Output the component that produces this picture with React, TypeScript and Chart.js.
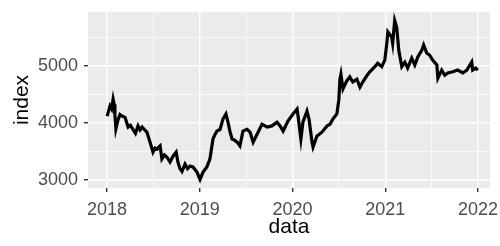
import React, { useEffect, useRef } from "react";
import { Chart, registerables } from "chart.js";

Chart.register(...registerables);

const dates: string[] = [
  "2018-01-02","2018-01-05","2018-01-13","2018-01-19","2018-01-25","2018-01-29","2018-02-01","2018-02-05",
  "2018-02-13","2018-02-21","2018-03-03","2018-03-13","2018-03-25","2018-04-03","2018-04-13","2018-04-23",
  "2018-05-03","2018-05-11","2018-05-19","2018-05-29","2018-06-07","2018-06-19","2018-07-01","2018-07-09",
  "2018-07-17","2018-07-29","2018-08-05","2018-08-15","2018-08-25","2018-09-06","2018-09-18","2018-09-30",
  "2018-10-07","2018-10-15","2018-10-23","2018-11-04","2018-11-14","2018-11-24","2018-12-05","2018-12-21",
  "2019-01-02","2019-01-14","2019-01-29","2019-02-10","2019-02-22","2019-03-02","2019-03-10","2019-03-22",
  "2019-04-02","2019-04-14","2019-04-22","2019-04-30","2019-05-08","2019-05-18","2019-05-28","2019-06-08",
  "2019-06-20","2019-07-06","2019-07-18","2019-07-30","2019-08-14","2019-09-03","2019-09-23","2019-10-12",
  "2019-11-01","2019-11-13","2019-11-25","2019-12-14","2020-01-03","2020-01-19","2020-01-23","2020-02-03",
  "2020-02-11","2020-02-27","2020-03-06","2020-03-18","2020-03-22","2020-04-06","2020-04-26","2020-05-16",
  "2020-05-28","2020-06-08","2020-06-24","2020-07-02","2020-07-06","2020-07-10","2020-07-18","2020-08-02",
  "2020-08-14","2020-08-26","2020-09-11","2020-09-23","2020-10-04","2020-10-20","2020-11-01","2020-11-21",
  "2020-12-02","2020-12-18","2020-12-30","2021-01-07","2021-01-11","2021-01-26","2021-01-30","2021-02-07",
  "2021-02-15","2021-02-23","2021-03-07","2021-03-19","2021-03-30","2021-04-15","2021-04-27","2021-05-09",
  "2021-05-25","2021-06-01","2021-06-13","2021-06-25","2021-07-07","2021-07-23","2021-07-27","2021-08-11",
  "2021-08-23","2021-09-04","2021-09-24","2021-10-13","2021-11-02","2021-11-18","2021-12-07","2021-12-11",
  "2021-12-23","2021-12-31"
];

const values: number[] = [
  4120,4180,4300,4250,4420,4330,4150,3900,
  4050,4150,4120,4100,3930,3960,3890,3820,
  3950,3880,3930,3880,3840,3670,3490,3560,
  3545,3600,3370,3440,3400,3315,3420,3490,
  3315,3200,3150,3280,3200,3245,3230,3140,
  3010,3140,3230,3370,3720,3800,3860,3890,
  4070,4160,4015,3850,3720,3700,3665,3600,
  3860,3890,3840,3665,3800,3980,3930,3950,
  4015,3950,3860,4035,4160,4245,4120,3720,
  4015,4210,4070,3665,3580,3770,3840,3950,
  3980,4070,4160,4420,4770,4860,4600,4740,
  4810,4720,4770,4630,4720,4830,4900,4990,
  5050,4990,5100,5400,5600,5510,5400,5800,
  5680,5280,4990,5070,4965,5140,5020,5160,
  5280,5370,5230,5190,5100,5020,4790,4930,
  4840,4880,4900,4930,4880,4930,5070,4930,
  4965,4930
];

const xTicks: number[] = [2018, 2018.5, 2019, 2019.5, 2020, 2020.5, 2021, 2021.5, 2022];
const yTicks: number[] = [3000, 3500, 4000, 4500, 5000, 5500];

function toYear(s: string): number {
  const [y, m, d] = s.split("-").map(Number);
  const start = Date.UTC(y, 0, 1);
  const len = Date.UTC(y + 1, 0, 1) - start;
  return y + (Date.UTC(y, m - 1, d) - start) / len;
}

const FONT = "'Liberation Sans', Arial, sans-serif";

const panelBg = {
  id: "panelBg",
  beforeDraw(chart: any) {
    const { ctx, chartArea } = chart;
    ctx.save();
    ctx.fillStyle = "#EBEBEB";
    ctx.fillRect(chartArea.left, chartArea.top, chartArea.right - chartArea.left, chartArea.bottom - chartArea.top);
    ctx.restore();
  },
};

export default function App() {
  const ref = useRef<HTMLCanvasElement>(null);
  useEffect(() => {
    document.body.style.margin = "0";
    const points = dates.map((d, i) => ({ x: toYear(d), y: values[i] }));
    const isMajorX = (v: number) => Number.isInteger(v);
    const isMajorY = (v: number) => v % 1000 === 0;
    const chart = new Chart(ref.current!, {
      type: "line",
      data: {
        datasets: [
          {
            data: points,
            borderColor: "#000000",
            borderWidth: 3.2,
            pointRadius: 0,
            tension: 0,
          },
        ],
      },
      options: {
        animation: false,
        responsive: false,
        layout: { padding: { top: 12, right: 10, left: 0, bottom: 0 } },
        plugins: { legend: { display: false }, tooltip: { enabled: false } },
        scales: {
          x: {
            type: "linear",
            min: 2017.795,
            max: 2022.129,
            afterBuildTicks: (s: any) => {
              s.ticks = xTicks.map((v) => ({ value: v }));
            },
            afterFit: (s: any) => {
              s.height = 58;
              s.paddingLeft = 0;
              s.paddingRight = 0;
            },
            border: { display: false },
            grid: {
              color: "#FFFFFF",
              lineWidth: (c: any) => (isMajorX(c.tick.value) ? 1.4 : 0.7),
              tickColor: (c: any) => (isMajorX(c.tick.value) ? "#333333" : "rgba(0,0,0,0)"),
              tickLength: 4,
            },
            ticks: {
              autoSkip: false,
              maxRotation: 0,
              padding: 7,
              color: "#4D4D4D",
              font: { family: FONT, size: 18 },
              callback: (v: any) => (Number.isInteger(v) ? String(v) : ""),
            },
            title: {
              display: true,
              text: "data",
              color: "#000000",
              font: { family: FONT, size: 21 },
              padding: { top: 0, bottom: 6 },
            },
          },
          y: {
            type: "linear",
            min: 2860,
            max: 5950,
            afterBuildTicks: (s: any) => {
              s.ticks = yTicks.map((v) => ({ value: v }));
            },
            afterFit: (s: any) => {
              s.width = 88;
              s.paddingTop = 0;
              s.paddingBottom = 0;
            },
            border: { display: false },
            grid: {
              color: "#FFFFFF",
              lineWidth: (c: any) => (isMajorY(c.tick.value) ? 1.4 : 0.7),
              tickColor: (c: any) => (isMajorY(c.tick.value) ? "#333333" : "rgba(0,0,0,0)"),
              tickLength: 4,
            },
            ticks: {
              padding: 6,
              color: "#4D4D4D",
              font: { family: FONT, size: 18 },
              callback: (v: any) => (v % 1000 === 0 ? String(v) : ""),
            },
            title: {
              display: true,
              text: "index",
              color: "#000000",
              font: { family: FONT, size: 21 },
              padding: { top: 10, bottom: 0 },
            },
          },
        },
      },
      plugins: [panelBg],
    });
    return () => chart.destroy();
  }, []);
  return <canvas ref={ref} width={500} height={246} style={{ display: "block" }} />;
}
